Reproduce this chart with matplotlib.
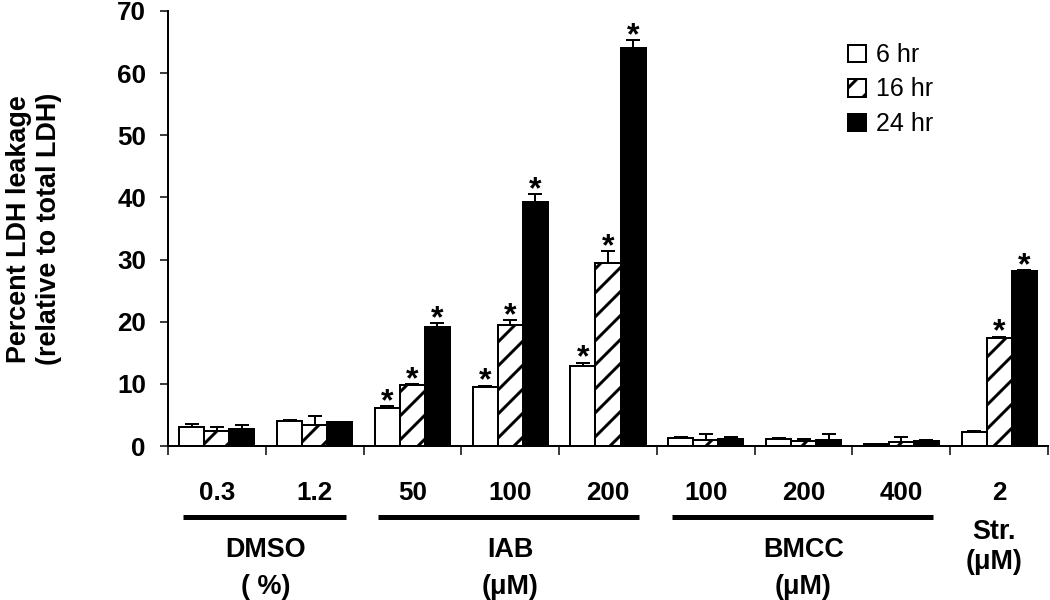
import matplotlib
matplotlib.use("Agg")
import matplotlib.pyplot as plt
from matplotlib.lines import Line2D
import numpy as np

# ---- data ----
conc_labels = ['0.3', '1.2', '50', '100', '200', '100', '200', '400', '2']
series_names = ['6 hr', '16 hr', '24 hr']
mean_6 = [3.1, 4.0, 6.1, 9.5, 12.8, 1.3, 1.2, 0.3, 2.2]
err_6 = [0.5, 0.2, 0.3, 0.2, 0.6, 0.2, 0.1, 0.1, 0.2]
mean_16 = [2.4, 3.3, 9.8, 19.4, 29.5, 0.9, 0.8, 0.6, 17.4]
err_16 = [0.6, 1.6, 0.2, 0.9, 1.8, 1.0, 0.4, 0.9, 0.2]
mean_24 = [2.7, 3.8, 19.1, 39.3, 64.1, 1.2, 1.0, 0.8, 28.1]
err_24 = [0.6, 0.1, 0.7, 1.2, 1.2, 0.2, 0.9, 0.2, 0.2]
sig_6 = [0, 0, 1, 1, 1, 0, 0, 0, 0]
sig_16 = [0, 0, 1, 1, 1, 0, 0, 0, 1]
sig_24 = [0, 0, 1, 1, 1, 0, 0, 0, 1]
treat_names = ['DMSO', 'IAB', 'BMCC']
treat_units = ['( %)', '(\u03bcM)', '(\u03bcM)']
treat_spans = [(0, 1), (2, 4), (5, 7)]
str_name = 'Str.'
str_unit = '(\u03bcM)'
y_ticks = [0, 10, 20, 30, 40, 50, 60, 70]

plt.rcParams['font.family'] = ['Liberation Sans', 'DejaVu Sans']
plt.rcParams['hatch.linewidth'] = 3.0
plt.rcParams['hatch.color'] = 'black'

DPI = 72
fig = plt.figure(figsize=(1050 / DPI, 600 / DPI), dpi=DPI)
ax = fig.add_axes([168 / 1050, 1 - 446 / 600, 880 / 1050, 435 / 600])

x = np.arange(len(conc_labels))
w = 0.256
means = [mean_6, mean_16, mean_24]
errs = [err_6, err_16, err_24]
sigs = [sig_6, sig_16, sig_24]
faces = ['white', 'white', 'black']
hatches = [None, '/', None]

handles = []
for k in range(3):
    xs = x + (k - 1) * w
    m = np.array(means[k])
    e = np.array(errs[k])
    b = ax.bar(xs, m, width=w, color=faces[k], edgecolor='black',
               linewidth=2, hatch=hatches[k], zorder=2, label=series_names[k])
    handles.append(b)
    ax.errorbar(xs, m, yerr=[np.zeros_like(e), e], fmt='none', ecolor='black',
                elinewidth=2, capsize=7, capthick=2, zorder=3)
    for xi, mi, ei, s in zip(xs, m, e, sigs[k]):
        if s:
            ax.annotate('*', xy=(xi, mi + ei), xytext=(0, -4),
                        textcoords='offset points', ha='center', va='baseline',
                        fontsize=32, fontweight='bold')

ax.set_xlim(-0.5, len(conc_labels) - 0.5)
ax.set_ylim(0, 70)
ax.set_yticks(y_ticks)
ax.set_yticklabels([str(t) for t in y_ticks], fontsize=26, fontweight='bold')
ax.tick_params(axis='y', direction='out', length=8, width=1.5, pad=14)

ax.set_xticks(np.arange(-0.5, len(conc_labels), 1.0))
ax.set_xticklabels([])
ax.tick_params(axis='x', direction='out', length=9, width=1.5)

for s in ['top', 'right']:
    ax.spines[s].set_visible(False)
ax.spines['left'].set_linewidth(2)
ax.spines['bottom'].set_linewidth(2)

tr = ax.get_xaxis_transform()
for xi, lab in zip(x, conc_labels):
    ax.text(xi, -0.108, lab, transform=tr, ha='center', va='center',
            fontsize=26, fontweight='bold')

for name, unit, (a, b_) in zip(treat_names, treat_units, treat_spans):
    ax.add_line(Line2D([a - 0.35, b_ + 0.32], [-0.163, -0.163], transform=tr,
                       color='black', linewidth=5, solid_capstyle='butt',
                       clip_on=False))
    cx = (a + b_) / 2
    ax.text(cx, -0.239, name, transform=tr, ha='center', va='center',
            fontsize=27, fontweight='bold')
    ax.text(cx, -0.324, unit, transform=tr, ha='center', va='center',
            fontsize=27, fontweight='bold')

ax.text(x[-1] - 0.05, -0.198, str_name, transform=tr, ha='center', va='center',
        fontsize=27, fontweight='bold')
ax.text(x[-1] - 0.05, -0.267, str_unit, transform=tr, ha='center', va='center',
        fontsize=27, fontweight='bold')

fig.text(34 / 1050, 1 - 229 / 600, 'Percent LDH leakage\n(relative to total LDH)',
         rotation=90, ha='center', va='center', fontsize=27, fontweight='bold',
         multialignment='center', linespacing=1.2)

leg = ax.legend(handles=handles, loc='upper left',
                bbox_to_anchor=(848 / 1050, 1 - 43 / 600),
                bbox_transform=fig.transFigure, frameon=False, fontsize=25,
                handlelength=0.7, handleheight=0.7, handletextpad=0.4,
                labelspacing=0.42, borderpad=0, borderaxespad=0)

fig.savefig('out.png', dpi=DPI)
